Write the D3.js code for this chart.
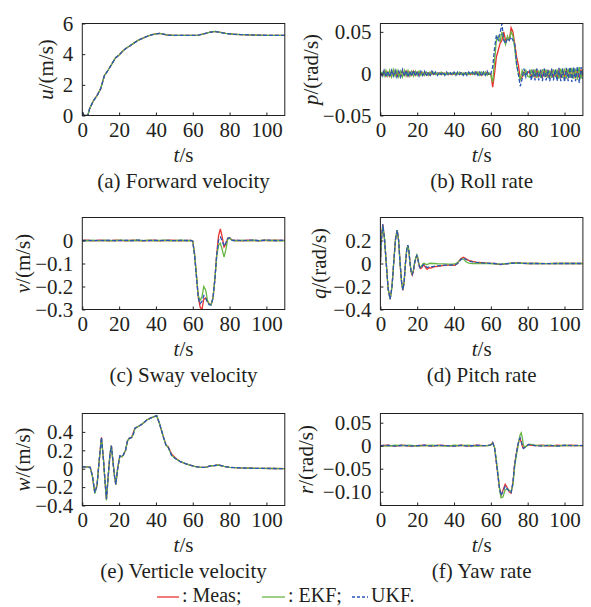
<!DOCTYPE html>
<html>
<head>
<meta charset="utf-8">
<script src="https://cdn.jsdelivr.net/npm/d3@7"></script>
<style>
  body { margin: 0; background: #fff; }
  svg text { font-family: "Liberation Serif", "Times New Roman", serif; font-size: 21px; fill: #231f20; }
  svg text.legend { font-size: 20px; }
</style>
</head>
<body>
<div id="chart"></div>
<script>
// ---- (a) forward velocity u
const uTime = [0,1,3,4,6,8,10,12,14,16,18,20,22,24,26,28,30,32,34,36,38,40,42,44,46,50,55,60,63,66,69,72,75,78,82,86,90,95,100,105,110];
const uMeas = [0.25,0.0,0.0,0.45,0.95,1.3,1.75,2.6,2.95,3.35,3.75,3.95,4.2,4.4,4.55,4.72,4.88,5.0,5.1,5.2,5.27,5.32,5.35,5.3,5.25,5.22,5.22,5.22,5.24,5.33,5.42,5.48,5.42,5.35,5.3,5.28,5.26,5.24,5.23,5.22,5.22];
const uEKF  = [0.25,0.0,0.0,0.45,0.95,1.3,1.75,2.6,2.95,3.35,3.75,3.95,4.2,4.4,4.55,4.72,4.88,5.0,5.1,5.2,5.27,5.32,5.35,5.3,5.25,5.22,5.22,5.22,5.24,5.33,5.42,5.48,5.42,5.35,5.3,5.28,5.26,5.24,5.23,5.22,5.22];
const uUKF  = [0.25,0.0,0.0,0.45,0.95,1.3,1.75,2.6,2.95,3.35,3.75,3.95,4.2,4.4,4.55,4.72,4.88,5.0,5.1,5.2,5.27,5.32,5.35,5.3,5.25,5.22,5.22,5.22,5.24,5.33,5.42,5.48,5.42,5.35,5.3,5.28,5.26,5.24,5.23,5.22,5.22];

// ---- (b) roll rate p, sampled every second 0..110
const pTime = d3.range(0, 111);
const pMeas = [
  0.0,-0.002,0.003,-0.003,0.002,-0.003,0.003,-0.002,0.003,-0.003,
  0.002,-0.003,0.003,-0.002,0.003,-0.003,0.002,-0.002,0.003,-0.002,
  0.002,-0.002,0.002,-0.002,0.002,-0.002,0.001,-0.002,0.002,-0.001,
  0.001,-0.001,0.001,-0.001,0.001,-0.001,0.001,-0.001,0.001,-0.001,
  0.001,-0.001,0.001,-0.001,0.001,-0.001,0.001,-0.001,0.001,-0.001,
  0.001,-0.001,0.002,-0.001,0.001,-0.002,0.001,-0.001,0.002,-0.001,
  0.0,-0.016,0.0,0.02,0.028,0.036,0.04,0.05,0.04,0.042,
  0.04,0.055,0.05,0.035,0.02,0.01,-0.007,-0.004,0.002,0.0,
  0.001,0.003,-0.004,0.003,-0.004,0.004,-0.003,0.003,-0.004,0.004,
  -0.003,0.003,-0.004,0.004,-0.004,0.003,-0.004,0.004,-0.004,0.004,
  -0.004,0.005,-0.004,0.004,-0.005,0.005,-0.004,0.004,-0.005,0.005,
  -0.003];
const pEKF = [
  0.0,0.002,-0.003,0.004,-0.003,0.004,-0.004,0.005,-0.003,0.004,
  -0.004,0.003,-0.004,0.004,-0.003,0.004,-0.003,0.003,-0.003,0.003,
  -0.002,0.003,-0.002,0.002,-0.002,0.002,-0.002,0.002,-0.001,0.002,
  -0.001,0.001,-0.001,0.002,-0.001,0.001,-0.001,0.001,-0.001,0.001,
  -0.001,0.001,-0.001,0.002,-0.001,0.001,-0.001,0.001,-0.001,0.001,
  -0.001,0.002,-0.001,0.002,-0.002,0.002,-0.001,0.002,-0.002,0.001,
  -0.002,-0.01,0.015,0.04,0.045,0.038,0.05,0.042,0.035,0.045,
  0.04,0.05,0.045,0.03,0.01,0.0,-0.008,0.004,-0.002,0.004,
  -0.003,-0.004,0.005,-0.004,0.005,-0.005,0.004,-0.005,0.005,-0.004,
  0.005,-0.005,0.004,-0.005,0.005,-0.004,0.005,-0.006,0.006,-0.005,
  0.006,-0.006,0.006,-0.005,0.007,-0.006,0.006,-0.007,0.008,-0.006,
  0.005];
const pUKF = [
  0.001,-0.003,0.004,-0.004,0.003,-0.004,0.004,-0.003,0.004,-0.004,
  0.003,-0.004,0.005,-0.003,0.004,-0.004,0.003,-0.003,0.004,-0.003,
  0.003,-0.003,0.003,-0.002,0.003,-0.003,0.002,-0.002,0.003,-0.002,
  0.002,-0.002,0.002,-0.001,0.002,-0.002,0.002,-0.002,0.001,-0.002,
  0.002,-0.002,0.002,-0.001,0.002,-0.002,0.002,-0.002,0.002,-0.001,
  0.002,-0.002,0.003,-0.002,0.002,-0.003,0.002,-0.002,0.003,-0.002,
  0.0,0.008,0.03,0.046,0.04,0.048,0.06,0.04,0.036,0.042,
  0.04,0.044,0.04,0.035,0.012,-0.002,-0.015,-0.006,0.006,-0.004,
  0.003,0.004,-0.008,0.005,-0.008,0.006,-0.008,0.005,-0.009,0.006,
  -0.008,0.005,-0.009,0.006,-0.008,0.005,-0.009,0.007,-0.009,0.006,
  -0.010,0.007,-0.009,0.008,-0.010,0.008,-0.009,0.009,-0.011,0.008,
  -0.006];

// ---- (c) sway velocity v
const vTime = [0,3,6,9,12,15,18,21,24,27,30,33,36,39,42,45,48,51,54,57,
  59,60,61,62,63,64,65,66,67,68,69,70,71,72,73,74,75,76,77,78,79,80,81,82,
  84,87,90,93,96,99,102,105,108,110];
const vMeas = [0,0.001,-0.002,0.001,0,-0.001,0.001,0,-0.001,0.001,0,-0.001,0,0.001,-0.001,0,0.001,0,-0.001,0,
  0,-0.003,-0.06,-0.15,-0.245,-0.29,-0.30,-0.255,-0.25,-0.265,-0.275,-0.278,-0.25,-0.17,-0.06,0.02,0.05,0.015,-0.028,-0.015,0.01,0.012,0.004,0.0,
  0,-0.001,0.001,0,-0.001,0.001,0,0.001,0,0];
const vEKF = [0,-0.001,0.001,-0.002,0.001,-0.001,0,0.002,-0.001,0,0.001,-0.001,0.002,-0.001,0,0.001,-0.001,0,0.001,-0.001,
  0,-0.003,-0.06,-0.15,-0.24,-0.26,-0.245,-0.2,-0.215,-0.26,-0.278,-0.28,-0.25,-0.17,-0.07,-0.02,-0.012,-0.04,-0.072,-0.04,0.005,0.01,0.003,0.0,
  -0.002,0.001,-0.002,0.001,-0.001,0.002,-0.001,0.001,-0.002,0];
const vUKF = [0,0.001,-0.001,0.001,-0.001,0.002,-0.001,0,0.001,-0.001,0.002,0,-0.001,0.001,-0.001,0.001,0,-0.001,0.001,0,
  0,-0.003,-0.065,-0.16,-0.25,-0.275,-0.265,-0.24,-0.25,-0.27,-0.28,-0.28,-0.25,-0.17,-0.065,0.0,0.015,0.0,-0.025,-0.01,0.01,0.012,0.003,0.0,
  0.002,-0.001,0.001,0.002,-0.001,0.001,0.002,-0.001,0.001,0];

// ---- (d) pitch rate q
const qTime = [0,0.5,1.3,2.2,3.2,4.2,5.3,6.3,7.2,8.2,9.1,9.9,10.7,11.5,12.2,12.9,13.6,14.3,14.9,15.5,
  16.1,16.7,17.3,17.9,18.5,19.2,19.8,20.3,20.8,21.3,21.8,22.5,23.2,24,25,25.5,26.5,27.5,29,31,
  33,35,37,39,40.5,42,43.5,45,46.5,48,50,52,55,58,62,65,68,71,74,77,80,85,90,95,100,105,110];
const qMeas = [0,0.2,0.34,0.22,0.0,-0.22,-0.31,-0.2,0.0,0.21,0.29,0.2,0.0,-0.16,-0.235,-0.16,0.0,0.12,0.155,0.1,
  0.0,-0.075,-0.1,-0.07,-0.005,0.045,0.065,0.045,0.0,-0.035,-0.045,-0.035,-0.015,-0.02,-0.045,-0.05,-0.035,-0.04,-0.03,-0.025,
  -0.02,-0.017,-0.015,-0.014,-0.015,0.005,0.04,0.055,0.04,0.028,0.018,0.012,0.007,0.003,0.0,-0.01,-0.003,0.002,0.006,0.002,
  0.0,0.0,-0.001,0.0,0.0,0.0,0.0];
const qEKF = [0,0.2,0.33,0.22,0.0,-0.22,-0.31,-0.2,0.0,0.21,0.29,0.2,0.0,-0.16,-0.23,-0.16,0.0,0.12,0.16,0.11,
  0.0,-0.065,-0.09,-0.06,0.0,0.05,0.075,0.055,0.005,-0.02,-0.03,-0.02,0.0,0.0,-0.01,-0.01,0.0,0.002,0.0,-0.002,
  -0.003,-0.004,-0.005,-0.005,-0.004,0.01,0.035,0.04,0.015,0.003,0.0,0.0,0.0,0.0,-0.002,-0.006,-0.002,0.002,0.004,0.002,
  0.0,0.0,-0.001,0.0,0.0,0.0,0.0];
const qUKF = [0,0.2,0.34,0.22,0.0,-0.22,-0.31,-0.2,0.0,0.21,0.29,0.2,0.0,-0.16,-0.23,-0.16,0.0,0.12,0.16,0.11,
  0.0,-0.07,-0.095,-0.065,0.0,0.05,0.07,0.05,0.0,-0.03,-0.043,-0.03,-0.012,-0.01,-0.03,-0.035,-0.028,-0.03,-0.025,-0.02,
  -0.018,-0.015,-0.014,-0.013,-0.012,0.0,0.03,0.05,0.035,0.022,0.015,0.01,0.006,0.003,0.0,-0.008,-0.003,0.002,0.005,0.002,
  0.0,0.0,-0.001,0.0,0.0,0.0,0.0];

// ---- (e) verticle velocity w
const wTime = [0,2,4.3,5.5,6.8,8,9,10.4,11.5,12.2,13.1,14,15,15.8,16.8,17.5,18.2,19.2,20.4,21.5,
  22.3,23.5,24.5,25.5,26.8,27.8,28.6,30.5,32.2,34,35,37,39,40.4,41.8,43.1,44.3,45.5,46.7,48.5,
  50.5,53,56,58.5,61,64,67,69.4,72,74,77,80,86,92,97,104,110];
const wMeas = [0.02,0.02,0.015,-0.08,-0.26,-0.18,0.05,0.34,0.1,-0.1,-0.33,-0.1,0.15,0.25,0.05,-0.08,-0.17,0.0,0.14,0.13,
  0.15,0.2,0.3,0.33,0.34,0.4,0.44,0.46,0.48,0.51,0.53,0.55,0.565,0.575,0.5,0.41,0.33,0.255,0.24,0.16,
  0.12,0.08,0.055,0.04,0.025,0.015,0.015,0.03,0.035,0.04,0.025,0.015,0.008,0.005,0.003,0.002,0.0];
const wEKF = [0.02,0.02,0.015,-0.08,-0.27,-0.18,0.05,0.33,0.1,-0.1,-0.345,-0.1,0.15,0.25,0.05,-0.08,-0.17,0.0,0.14,0.13,
  0.15,0.2,0.3,0.33,0.34,0.38,0.44,0.46,0.48,0.51,0.53,0.55,0.565,0.58,0.5,0.41,0.33,0.255,0.23,0.145,
  0.11,0.08,0.055,0.04,0.025,0.015,0.015,0.03,0.035,0.04,0.025,0.015,0.008,0.005,0.003,0.002,0.0];
const wUKF = [0.02,0.02,0.015,-0.08,-0.26,-0.18,0.05,0.34,0.1,-0.1,-0.33,-0.1,0.15,0.25,0.05,-0.08,-0.17,0.0,0.14,0.13,
  0.15,0.2,0.3,0.33,0.34,0.38,0.44,0.46,0.48,0.51,0.53,0.55,0.565,0.575,0.5,0.41,0.33,0.255,0.23,0.145,
  0.11,0.08,0.055,0.04,0.025,0.015,0.015,0.03,0.035,0.04,0.025,0.015,0.008,0.005,0.003,0.002,0.0];

// ---- (f) yaw rate r
const rTime = [0,4,8,12,16,20,24,28,32,36,40,44,48,52,56,
  58,60,61,62,62.8,63.7,64.6,65.5,66.5,67.8,69,70,71,72,72.8,73.7,74.6,75.3,75.9,76.5,
  77.2,77.7,78.5,79.5,80.5,82,84,88,92,96,100,104,108,110];
const rMeas = [0,0.001,-0.001,0.001,-0.001,0,0.001,-0.001,0.001,0,-0.001,0.001,-0.001,0.001,0,
  0,0.002,0.007,-0.004,-0.03,-0.06,-0.09,-0.108,-0.098,-0.084,-0.092,-0.1,-0.103,-0.08,-0.045,-0.02,0.0,0.012,0.015,0.008,
  -0.002,-0.005,-0.003,0.0,0.002,0.001,0.0,0.001,-0.001,0.001,0,0.001,0,0];
const rEKF = [0,-0.001,0.001,0,0.001,-0.001,0,0.001,0,-0.001,0.001,0,0.001,-0.001,0,
  0,0.001,0.005,-0.003,-0.025,-0.055,-0.09,-0.113,-0.112,-0.096,-0.094,-0.097,-0.1,-0.085,-0.05,-0.025,-0.005,0.012,0.024,0.028,
  0.015,0.0,-0.003,-0.001,0.003,0.003,0.001,0.0,0.001,-0.001,0.001,0,0,0];
const rUKF = [0,0.001,-0.001,0.001,-0.001,0,0.001,-0.001,0.001,0,-0.001,0.001,-0.001,0.001,0,
  0,0.002,0.007,-0.005,-0.03,-0.06,-0.09,-0.108,-0.1,-0.088,-0.094,-0.1,-0.102,-0.08,-0.045,-0.02,0.0,0.012,0.017,0.01,
  -0.002,-0.006,-0.004,0.0,0.003,0.002,0.0,-0.001,0.001,-0.001,0.001,0,0.001,0];

const xTicks = [0, 20, 40, 60, 80, 100];
const seriesNames = ["Meas", "EKF", "UKF"];
const colors = { Meas: "#e8322e", EKF: "#68b544", UKF: "#2a56b4" };

const fmt = n => v => v === 0 ? "0" : d3.format("." + n + "f")(v);

const panels = [
  { sym: "u", unit: "/(m/s)",   caption: "(a) Forward velocity",  t: uTime, s: [uMeas, uEKF, uUKF], dom: [0, 6],         ticks: [0, 2, 4, 6],               f: fmt(0), lx: 46 },
  { sym: "p", unit: "/(rad/s)", caption: "(b) Roll rate",         t: pTime, s: [pMeas, pEKF, pUKF], dom: [-0.05, 0.06],  ticks: [-0.05, 0, 0.05],           f: fmt(2), lx: 311 },
  { sym: "v", unit: "/(m/s)",   caption: "(c) Sway velocity",     t: vTime, s: [vMeas, vEKF, vUKF], dom: [-0.3, 0.1],    ticks: [-0.3, -0.2, -0.1, 0],      f: fmt(1), lx: 23 },
  { sym: "q", unit: "/(rad/s)", caption: "(d) Pitch rate",        t: qTime, s: [qMeas, qEKF, qUKF], dom: [-0.4, 0.4],    ticks: [-0.4, -0.2, 0, 0.2],       f: fmt(1), lx: 319 },
  { sym: "w", unit: "/(m/s)",   caption: "(e) Verticle velocity", t: wTime, s: [wMeas, wEKF, wUKF], dom: [-0.4, 0.6],    ticks: [-0.4, -0.2, 0, 0.2, 0.4],  f: fmt(1), lx: 23 },
  { sym: "r", unit: "/(rad/s)", caption: "(f) Yaw rate",          t: rTime, s: [rMeas, rEKF, rUKF], dom: [-0.13, 0.07],  ticks: [-0.10, -0.05, 0, 0.05],    f: fmt(2), lx: 306 }
];

const svg = d3.select("#chart").append("svg").attr("width", 591).attr("height", 607);

const colX = [82.3, 380.4];
const rowY = [23.5, 217.5, 413.5];
const fw = 202.5, fh = 92;

panels.forEach((p, i) => {
  const x0 = colX[i % 2], y0 = rowY[Math.floor(i / 2)];
  const x = d3.scaleLinear().domain([0, 110]).range([x0, x0 + fw]);
  const y = d3.scaleLinear().domain(p.dom).range([y0 + fh, y0]);
  const g = svg.append("g");

  g.append("clipPath").attr("id", "clip" + i)
    .append("rect").attr("x", x0).attr("y", y0).attr("width", fw).attr("height", fh);

  const line = d3.line().x(d => x(d[0])).y(d => y(d[1]));
  const lines = g.append("g").attr("clip-path", "url(#clip" + i + ")");
  p.s.forEach((vals, k) => {
    const name = seriesNames[k];
    lines.append("path")
      .datum(d3.zip(p.t, vals))
      .attr("fill", "none")
      .attr("stroke", colors[name])
      .attr("stroke-width", 1.3)
      .attr("stroke-dasharray", name === "UKF" ? "4,2" : null)
      .attr("d", line);
  });

  // axes with inward ticks
  const ax = g.append("g").attr("transform", `translate(0,${y0 + fh})`)
    .call(d3.axisBottom(x).tickValues(xTicks).tickSize(-3).tickPadding(7).tickFormat(d3.format("d")));
  const ay = g.append("g").attr("transform", `translate(${x0},0)`)
    .call(d3.axisLeft(y).tickValues(p.ticks).tickSize(-3).tickPadding(9).tickFormat(p.f));
  [ax, ay].forEach(a => {
    a.attr("font-size", null).attr("font-family", null).attr("color", "#231f20");
    a.select(".domain").remove();
  });

  g.append("rect").attr("x", x0).attr("y", y0).attr("width", fw).attr("height", fh)
    .attr("fill", "none").attr("stroke", "#231f20").attr("stroke-width", 1);

  // y label
  const yl = g.append("text")
    .attr("transform", `translate(${p.lx},${y0 + fh / 2}) rotate(-90)`)
    .attr("text-anchor", "middle").attr("dominant-baseline", "central");
  yl.append("tspan").attr("font-style", "italic").text(p.sym);
  yl.append("tspan").text(p.unit);

  // x label
  const xl = g.append("text").attr("x", x0 + fw / 2).attr("y", y0 + fh + 46.5).attr("text-anchor", "middle");
  xl.append("tspan").attr("font-style", "italic").text("t");
  xl.append("tspan").text("/s");

  g.append("text").attr("x", x0 + fw / 2).attr("y", y0 + fh + 72).attr("text-anchor", "middle").text(p.caption);
});

// legend
const legend = [
  { name: "Meas", x1: 157, x2: 179, label: ": Meas;" },
  { name: "EKF",  x1: 262, x2: 285, label: ": EKF;" },
  { name: "UKF",  x1: 352, x2: 368, label: "UKF." }
];
const lg = svg.append("g");
legend.forEach(d => {
  lg.append("line").attr("x1", d.x1).attr("x2", d.x2).attr("y1", 597).attr("y2", 597)
    .attr("stroke", colors[d.name]).attr("stroke-width", 1.3)
    .attr("stroke-dasharray", d.name === "UKF" ? "3,2" : null);
  lg.append("text").attr("class", "legend").attr("x", d.x2 + 3).attr("y", 602).text(d.label);
});
</script>
</body>
</html>
